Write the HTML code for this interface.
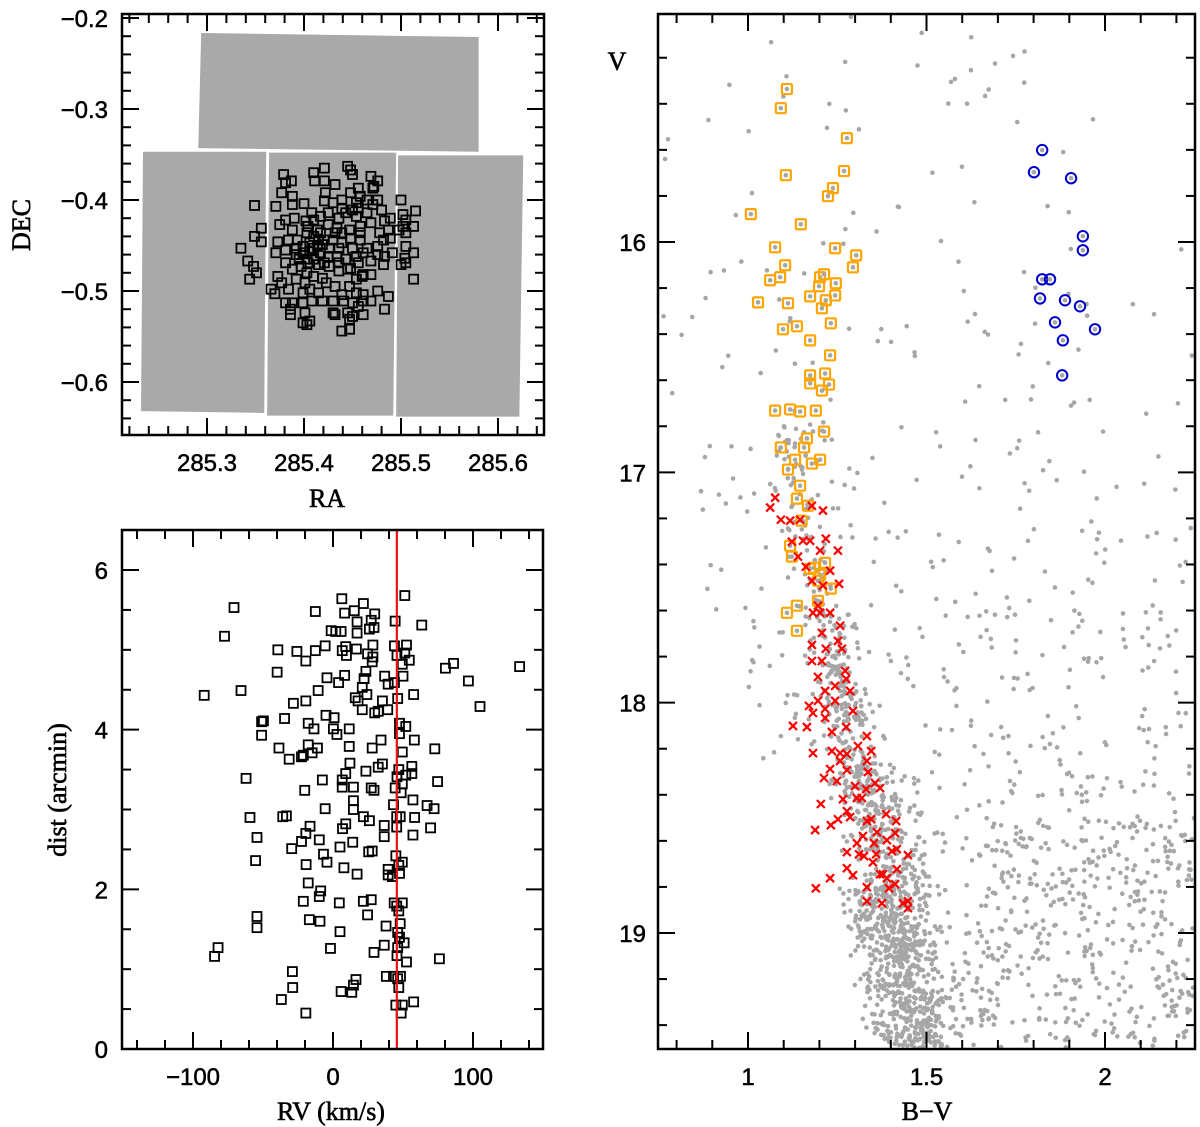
<!DOCTYPE html>
<html><head><meta charset="utf-8"><style>
html,body{margin:0;padding:0;background:#fff;}
svg{display:block;}
text{font-family:"Liberation Sans",sans-serif;fill:#000;}
.ttl{font-family:"Liberation Serif",serif;font-size:26px;stroke:#000;stroke-width:0.6px;}
.tk{font-size:24px;stroke:#000;stroke-width:0.5px;}
</style></head><body>
<svg id="fig" width="1200" height="1127" viewBox="0 0 1200 1127" xmlns="http://www.w3.org/2000/svg"></svg>
<script>
// ===== Panel A: sky map =====
const fieldChipCorners = [
 [[285.294,-0.2165],[285.580,-0.2209],[285.580,-0.347],[285.291,-0.343]],
 [[285.234,-0.347],[285.361,-0.347],[285.359,-0.634],[285.232,-0.632]],
 [[285.364,-0.348],[285.495,-0.348],[285.492,-0.637],[285.362,-0.637]],
 [[285.497,-0.351],[285.626,-0.351],[285.622,-0.638],[285.495,-0.638]]
];
const starRA = [285.349,285.335,285.349,285.356,285.356,285.342,285.348,285.351,285.344,285.366,285.370,285.379,285.381,285.387,285.377,285.388,285.371,285.388,285.400,285.390,285.381,285.375,285.388,285.402,285.408,285.410,285.411,285.421,285.421,285.422,285.421,285.432,285.445,285.448,285.450,285.469,285.472,285.476,285.471,285.456,285.448,285.458,285.454,285.439,285.430,285.436,285.443,285.450,285.456,285.465,285.480,285.489,285.483,285.469,285.458,285.447,285.434,285.425,285.414,285.403,285.393,285.384,285.373,285.371,285.381,285.392,285.399,285.406,285.414,285.421,285.430,285.439,285.450,285.458,285.465,285.476,285.483,285.489,285.487,285.500,285.502,285.515,285.513,285.505,285.498,285.505,285.513,285.504,285.500,285.505,285.513,285.482,285.469,285.456,285.448,285.436,285.426,285.415,285.404,285.397,285.388,285.381,285.373,285.377,285.384,285.392,285.401,285.406,285.415,285.423,285.432,285.439,285.447,285.454,285.461,285.469,285.454,285.461,285.476,285.487,285.483,285.469,285.461,285.450,285.441,285.430,285.419,285.408,285.399,285.399,285.388,285.381,285.386,285.386,285.401,285.406,285.403,285.399,285.430,285.432,285.445,285.447,285.450,285.461,285.439,285.447,285.456,285.392,285.403,285.417,285.410,285.425,285.434,285.443,285.454,285.461,285.419,285.426,285.436,285.406,285.395,285.403,285.410,285.419,285.460,285.476,285.482,285.439,285.448,285.458,285.410,285.417,285.425,285.439,285.465,285.471,285.476,285.454,285.432,285.404,285.410,285.417,285.399,285.421,285.436,285.445,285.478,285.491,285.502,285.505,285.410,285.415];
const starDEC = [-0.406,-0.453,-0.440,-0.431,-0.446,-0.467,-0.473,-0.480,-0.487,-0.498,-0.503,-0.372,-0.381,-0.379,-0.392,-0.396,-0.407,-0.405,-0.404,-0.420,-0.422,-0.427,-0.433,-0.423,-0.414,-0.370,-0.379,-0.365,-0.379,-0.392,-0.401,-0.383,-0.363,-0.367,-0.372,-0.374,-0.385,-0.379,-0.387,-0.387,-0.392,-0.396,-0.403,-0.400,-0.403,-0.420,-0.414,-0.411,-0.409,-0.414,-0.411,-0.420,-0.423,-0.425,-0.429,-0.433,-0.431,-0.427,-0.433,-0.436,-0.444,-0.444,-0.446,-0.458,-0.455,-0.453,-0.458,-0.447,-0.451,-0.444,-0.444,-0.447,-0.453,-0.444,-0.453,-0.460,-0.462,-0.442,-0.433,-0.400,-0.416,-0.412,-0.429,-0.436,-0.433,-0.451,-0.458,-0.464,-0.471,-0.469,-0.487,-0.471,-0.467,-0.469,-0.475,-0.478,-0.473,-0.471,-0.469,-0.473,-0.476,-0.469,-0.484,-0.491,-0.498,-0.487,-0.491,-0.498,-0.502,-0.491,-0.495,-0.504,-0.495,-0.487,-0.482,-0.482,-0.502,-0.504,-0.500,-0.506,-0.520,-0.511,-0.511,-0.513,-0.511,-0.511,-0.511,-0.511,-0.502,-0.513,-0.513,-0.513,-0.520,-0.526,-0.524,-0.533,-0.537,-0.535,-0.524,-0.526,-0.524,-0.531,-0.528,-0.526,-0.544,-0.542,-0.517,-0.460,-0.465,-0.458,-0.465,-0.462,-0.462,-0.465,-0.462,-0.458,-0.449,-0.453,-0.453,-0.456,-0.465,-0.480,-0.484,-0.486,-0.484,-0.451,-0.444,-0.436,-0.442,-0.436,-0.422,-0.418,-0.414,-0.409,-0.400,-0.405,-0.400,-0.418,-0.436,-0.429,-0.440,-0.436,-0.451,-0.469,-0.469,-0.476,-0.436,-0.458,-0.429,-0.422,-0.453,-0.444];
const raTicks = [285.3,285.4,285.5,285.6];
const decTicks = [-0.2,-0.3,-0.4,-0.5,-0.6];

// ===== Panel B: RV vs distance =====
const rvValues = [-70.7,-77.5,-92,-65.7,-39.4,-39.9,-25.8,-19.4,-12.6,-12.6,-5.6,-1.3,2,5.8,6.3,8.3,15.2,21.7,17.2,17.2,26,29.8,27.3,29.3,6.6,9.1,9.6,16.7,24.7,28.5,28.5,28,44.4,51.3,63.4,43.9,52.5,45.7,51.3,54.5,49.5,50,80.3,86.1,96.7,133.3,105,57.6,46.2,43.9,39.4,36.9,23.5,22.2,20.9,24.2,15.9,17.9,20.9,29.8,32.3,35.3,39.1,8.3,4,-4.3,-10.6,-19.4,-28.3,-5,0.8,-17.7,-13.6,0.3,2.8,11.6,-34.6,-49.7,-51,-51,-38.6,-17.7,-11.1,-14.9,-21.2,-22.5,-31.3,11.6,12.1,28,34.3,32.3,35.3,47.5,52,47.5,58.1,72.7,49.5,47,56.3,56.3,52,45.7,74.7,49.5,44.4,48.7,57.1,67.2,72.2,43.2,45.5,48,58.3,69.7,57.1,45.5,36.6,36.6,26,21.7,27.3,29.3,23.5,14.6,14.6,14.6,9.1,6.6,6.6,-7.6,-20.2,-62.1,-59.3,-35.9,-33.3,-5.6,9.1,6.8,-16.4,-19.4,-9.8,-22.5,-29.5,5,14.1,25.5,28,-6.8,-4.3,-19.2,7.8,17.2,39.4,39.4,42.4,47.5,47,49.5,44.9,-54.3,-55.3,-17.7,-8.8,-9.8,-21.2,4.5,21.7,27.3,43.7,49.5,45.5,47,24.7,-16.9,-9.3,-54.3,-54.3,5,37.9,48,46.2,47.5,50.8,36.6,46.2,45.7,52.5,29.3,-1.8,76,-82.1,-84.6,-29,-28.8,-36.9,-19.4,5.8,13.4,14.6,16.4,38.1,43.2,48.2,46.2,47,44.9,49.5,48.7,57.6];
const distValues = [5.53,5.17,4.43,4.49,5.00,4.72,4.98,4.86,5.48,4.99,5.05,5.24,5.23,5.23,5.64,5.46,5.49,5.58,5.35,5.21,5.26,5.45,5.37,5.28,4.99,5.04,4.93,5.01,4.95,5.06,4.91,4.85,5.36,5.68,5.31,5.05,5.06,4.93,4.96,4.87,4.82,4.67,4.77,4.83,4.61,4.79,4.29,4.44,4.39,4.59,4.57,4.67,4.73,4.64,4.53,4.44,4.40,4.36,4.25,4.21,4.23,4.36,4.25,4.68,4.59,4.65,4.49,4.36,4.33,4.18,4.15,4.08,4.01,4.01,3.94,4.01,4.14,4.11,4.10,3.93,3.77,3.81,3.77,3.71,3.68,3.66,3.63,3.79,3.58,3.77,3.87,3.53,3.57,4.08,4.04,3.95,3.87,3.76,3.72,3.50,3.54,3.45,3.43,3.41,3.35,3.32,3.27,3.21,3.12,3.05,3.01,3.06,2.91,2.91,2.90,2.77,2.68,2.78,2.80,2.66,2.86,2.91,3.27,3.24,3.48,3.28,3.11,3.00,3.45,3.37,3.28,3.37,3.24,3.39,2.90,2.91,2.92,3.01,2.82,2.76,2.79,2.70,2.62,2.60,2.51,2.53,2.59,2.47,2.48,2.44,2.34,2.31,2.27,2.19,2.25,2.18,2.16,2.20,2.30,2.34,2.42,2.65,2.36,2.08,1.98,1.91,1.85,1.83,1.85,1.87,1.83,1.83,1.79,1.73,1.68,1.62,1.60,1.66,1.52,1.47,1.54,1.57,1.46,1.40,1.33,1.30,1.27,1.17,1.09,1.21,1.26,1.13,1.27,1.16,0.97,0.77,0.62,0.45,0.72,0.71,0.80,0.87,0.91,0.91,0.91,0.88,0.77,0.55,0.55,0.45,0.59];
const clusterRV = 45.6;
const rvTicks = [-100,0,100];
const distTicks = [0,2,4,6];

// ===== Panel C: CMD =====
const rgbBV = [1.109,1.092,1.277,1.269,1.106,1.238,1.224,1.008,1.148,1.076,1.244,1.303,1.294,1.104,1.062,1.090,1.202,1.213,1.199,1.246,1.174,1.244,1.218,1.028,1.112,1.207,1.137,1.098,1.232,1.174,1.230,1.216,1.174,1.174,1.227,1.207,1.146,1.118,1.076,1.190,1.213,1.165,1.092,1.157,1.132,1.202,1.112,1.179,1.146,1.137,1.168,1.150,1.118,1.123,1.185,1.202,1.216,1.174,1.196,1.232,1.196,1.137,1.109,1.137];
const rgbV = [15.336,15.419,15.549,15.692,15.710,15.766,15.801,15.879,15.923,16.023,16.027,16.058,16.110,16.101,16.166,16.153,16.153,16.140,16.192,16.179,16.236,16.232,16.253,16.262,16.266,16.288,16.366,16.379,16.353,16.427,16.492,16.571,16.579,16.614,16.619,16.645,16.736,16.727,16.732,16.732,16.823,16.853,16.892,16.892,16.945,16.945,16.988,16.962,17.058,17.114,17.145,17.210,17.319,17.366,17.414,17.445,17.393,17.419,17.471,17.505,17.558,17.579,17.610,17.688];
const msBV = [1.062,1.092,1.118,1.076,1.146,1.179,1.210,1.154,1.123,1.174,1.218,1.252,1.140,1.162,1.202,1.210,1.230,1.255,1.179,1.196,1.182,1.202,1.230,1.207,1.258,1.179,1.218,1.179,1.207,1.252,1.263,1.196,1.216,1.244,1.275,1.286,1.272,1.196,1.244,1.171,1.182,1.216,1.216,1.294,1.126,1.165,1.235,1.275,1.333,1.308,1.182,1.235,1.258,1.277,1.345,1.258,1.333,1.230,1.277,1.336,1.213,1.249,1.300,1.356,1.370,1.331,1.266,1.305,1.319,1.204,1.277,1.387,1.252,1.286,1.333,1.345,1.188,1.232,1.415,1.361,1.412,1.322,1.305,1.353,1.389,1.277,1.311,1.325,1.359,1.403,1.417,1.448,1.350,1.277,1.417,1.294,1.230,1.370,1.378,1.389,1.412,1.395,1.333,1.190,1.333,1.375,1.434,1.448,1.448];
const msV = [17.153,17.206,17.210,17.110,17.206,17.145,17.166,17.297,17.301,17.297,17.288,17.340,17.366,17.410,17.340,17.492,17.427,17.484,17.471,17.579,17.610,17.610,17.610,17.697,17.666,17.749,17.766,17.819,17.819,17.732,17.766,17.888,17.949,17.927,17.897,17.949,17.862,17.992,17.992,18.014,18.045,18.027,18.066,18.036,18.101,18.106,18.127,18.106,18.145,18.188,18.219,18.210,18.219,18.223,18.210,18.253,18.253,18.288,18.293,18.301,18.327,18.340,18.362,18.349,18.371,18.375,18.419,18.414,18.414,18.440,18.471,18.484,18.506,18.497,18.514,18.506,18.553,18.532,18.514,18.562,18.566,18.579,18.610,18.610,18.597,18.649,18.658,18.666,18.658,18.645,18.636,18.662,18.693,18.719,18.723,18.749,18.762,18.745,18.745,18.762,18.788,18.806,18.801,18.806,18.862,18.871,18.871,18.862,18.892];
const agbBV = [1.824,1.801,1.905,1.938,1.938,1.824,1.846,1.818,1.888,1.930,1.860,1.972,1.882,1.880];
const agbV = [15.601,15.697,15.723,15.975,16.036,16.162,16.162,16.245,16.253,16.279,16.349,16.379,16.427,16.579];
// field star density regions: [bvLeft, bvRight, vTop, vBottom, count]
const fieldBoxes = [[0.75,2.0,15.0,16.0,45],[0.75,2.25,16.0,17.0,90],[0.85,2.25,17.0,17.6,90],[1.0,2.25,17.6,18.3,170],[1.3,2.25,18.3,19.5,380],[1.6,2.25,18.5,19.5,250]];
// main-sequence ridge segments: [bvTop, bvBottom, halfWidth, vTop, vBottom, count]
const ridgeSegs = [[1.10,1.20,0.06,16.8,17.6,80],[1.20,1.32,0.08,17.6,18.3,200],[1.32,1.42,0.10,18.3,18.8,250],[1.38,1.48,0.12,18.8,19.5,600]];
const bvTicks = [1,1.5,2];
const vTicks = [16,17,18,19];

const NS='http://www.w3.org/2000/svg';
const svg=document.getElementById('fig');
function mk(tag,attrs,parent){const e=document.createElementNS(NS,tag);for(const k in attrs)e.setAttribute(k,attrs[k]);(parent||svg).appendChild(e);return e;}
function lin(d0,d1,p0,p1){return v=>p0+(v-d0)*(p1-p0)/(d1-d0);}
function axes(g,X,Y,x0,x1,y0,y1,xr,yr,xmin,xmaj,ymin,ymaj){
  const eps=1e-9;
  for(let v=Math.ceil(xr[0]/xmin-eps)*xmin; v<=xr[1]+eps; v+=xmin){
    const isMaj=Math.abs(v/xmaj-Math.round(v/xmaj))<1e-6; const L=isMaj?17:9; const px=X(v);
    if(px<x0+1||px>x1-1)continue;
    mk('line',{x1:px,y1:y1,x2:px,y2:y1-L,stroke:'#000','stroke-width':2},g);
    mk('line',{x1:px,y1:y0,x2:px,y2:y0+L,stroke:'#000','stroke-width':2},g);
  }
  for(let v=Math.ceil(yr[0]/ymin-eps)*ymin; v<=yr[1]+eps; v+=ymin){
    const isMaj=Math.abs(v/ymaj-Math.round(v/ymaj))<1e-6; const L=isMaj?17:9; const py=Y(v);
    if(py<y0+1||py>y1-1)continue;
    mk('line',{x1:x0,y1:py,x2:x0+L,y2:py,stroke:'#000','stroke-width':2},g);
    mk('line',{x1:x1,y1:py,x2:x1-L,y2:py,stroke:'#000','stroke-width':2},g);
  }
  mk('rect',{x:x0,y:y0,width:x1-x0,height:y1-y0,fill:'none',stroke:'#000','stroke-width':2.5},g);
}

// ---------- Panel A ----------
(function(){
  const X=lin(285.3,285.6,207,498), Y=lin(-0.2,-0.6,18,382);
  const g=mk('g',{});
  
  
  fieldChipCorners.forEach((c,i)=>{
    const p=mk('polygon',{points:c.map(q=>X(q[0])+','+Y(q[1])).join(' '),fill:'#a9a9a9'},g);
    
    
  });
  const sg=mk('g',{},g);
  
  
  for(let i=0;i<starRA.length;i++){
    const r=mk('rect',{x:X(starRA[i])-4.5,y:Y(starDEC[i])-4.5,width:9,height:9,fill:'none',stroke:'#000','stroke-width':1.8},sg);
    
    
  }
  axes(g,X,Y,122,544,14,435,[285.21,285.65],[-0.66,-0.19],0.02,0.1,0.02,0.1);
  raTicks.forEach(v=>{const t=mk('text',{x:X(v),y:471,'text-anchor':'middle',class:'tk'},g);t.textContent=v.toFixed(1);
    });
  decTicks.forEach(v=>{const t=mk('text',{x:108,y:Y(v)+9,'text-anchor':'end',class:'tk'},g);t.textContent='\u2212'+Math.abs(v).toFixed(1);
    });
  const xt=mk('text',{x:327,y:507,'text-anchor':'middle',class:'ttl'},g);xt.textContent='RA';
  
  const yt=mk('text',{x:0,y:0,'text-anchor':'middle',class:'ttl',transform:'translate(30,225) rotate(-90)'},g);yt.textContent='DEC';
  
})();

// ---------- Panel B ----------
(function(){
  const X=lin(-100,100,193,473), Y=lin(0,6,1049,570);
  const g=mk('g',{});
  
  
  const sg=mk('g',{},g);
  
  
  for(let i=0;i<rvValues.length;i++){
    const r=mk('rect',{x:X(rvValues[i])-4.5,y:Y(distValues[i])-4.5,width:9,height:9,fill:'none',stroke:'#000','stroke-width':1.8},sg);
    
    
  }
  const ln=mk('line',{x1:X(clusterRV),y1:530,x2:X(clusterRV),y2:1049,stroke:'#ee1111','stroke-width':2.2},g);
  
  
  axes(g,X,Y,122,543,530,1049,[-150,150],[0,6.5],20,100,0.5,2);
  rvTicks.forEach(v=>{const t=mk('text',{x:X(v),y:1085,'text-anchor':'middle',class:'tk'},g);t.textContent=(v<0?'\u2212':'')+Math.abs(v);
    });
  distTicks.forEach(v=>{const t=mk('text',{x:108,y:Y(v)+9,'text-anchor':'end',class:'tk'},g);t.textContent=v;
    });
  const xt=mk('text',{x:331,y:1120,'text-anchor':'middle',class:'ttl'},g);xt.textContent='RV (km/s)';
  
  const yt=mk('text',{x:0,y:0,'text-anchor':'middle',class:'ttl',transform:'translate(66,790) rotate(-90)'},g);yt.textContent='dist (arcmin)';
  
})();

// ---------- Panel C ----------
(function(){
  const X=lin(1,2,748,1105), Y=lin(16,19,242,933);
  const g=mk('g',{});
  
  
  const clip=mk('clipPath',{id:'cmdclip'},g);mk('rect',{x:658,y:14,width:537,height:1035},clip);
  const fg=mk('g',{'clip-path':'url(#cmdclip)'},g);
  
  
  let s=12345;function rnd(){s=(s*1103515245+12345)%2147483648;return s/2147483648;}
  fieldBoxes.forEach(b=>{for(let k=0;k<b[4];k++){const bv=b[0]+rnd()*(b[1]-b[0]);const v=b[2]+rnd()*(b[3]-b[2]);
    mk('circle',{cx:X(bv),cy:Y(v),r:2.3,fill:'#a6a6a6'},fg);}});
  ridgeSegs.forEach(b=>{for(let k=0;k<b[5];k++){const f=rnd();const v=b[3]+f*(b[4]-b[3]);const c=b[0]+f*(b[1]-b[0]);
    const off=(rnd()+rnd()+rnd()-1.5)/1.5*b[2]*1.4;mk('circle',{cx:X(c+off),cy:Y(v),r:2.3,fill:'#a6a6a6'},fg);}});
  const og=mk('g',{},g);
  
  
  for(let i=0;i<rgbBV.length;i++){
    mk('circle',{cx:X(rgbBV[i]),cy:Y(rgbV[i]),r:2.3,fill:'#a6a6a6'},og);
    const r=mk('rect',{x:X(rgbBV[i])-5,y:Y(rgbV[i])-5,width:10,height:10,fill:'none',stroke:'#ffa500','stroke-width':2.2,rx:1},og);
    
    
  }
  const rg=mk('g',{},g);
  
  
  for(let i=0;i<msBV.length;i++){
    const x=X(msBV[i]),y=Y(msV[i]);
    const p=mk('path',{d:`M${x-4},${y-4}L${x+4},${y+4}M${x-4},${y+4}L${x+4},${y-4}`,stroke:'#ff0000','stroke-width':2.2,fill:'none'},rg);
    
    
  }
  const bg=mk('g',{},g);
  
  
  for(let i=0;i<agbBV.length;i++){
    mk('circle',{cx:X(agbBV[i]),cy:Y(agbV[i]),r:2.3,fill:'#a6a6a6'},bg);
    const c=mk('circle',{cx:X(agbBV[i]),cy:Y(agbV[i]),r:5.2,fill:'none',stroke:'#0000cc','stroke-width':2},bg);
    
    
  }
  axes(g,X,Y,658,1195,14,1049,[0.75,2.25],[15,19.5],0.1,0.5,0.2,1);
  bvTicks.forEach(v=>{const t=mk('text',{x:X(v),y:1085,'text-anchor':'middle',class:'tk'},g);t.textContent=v;
    });
  vTicks.forEach(v=>{const t=mk('text',{x:646,y:Y(v)+9,'text-anchor':'end',class:'tk'},g);t.textContent=v;
    });
  const xt=mk('text',{x:927,y:1120,'text-anchor':'middle',class:'ttl'},g);xt.textContent='B\u2212V';
  
  const yt=mk('text',{x:617,y:70,'text-anchor':'middle',class:'ttl'},g);yt.textContent='V';
  
})();
</script>
</body></html>
